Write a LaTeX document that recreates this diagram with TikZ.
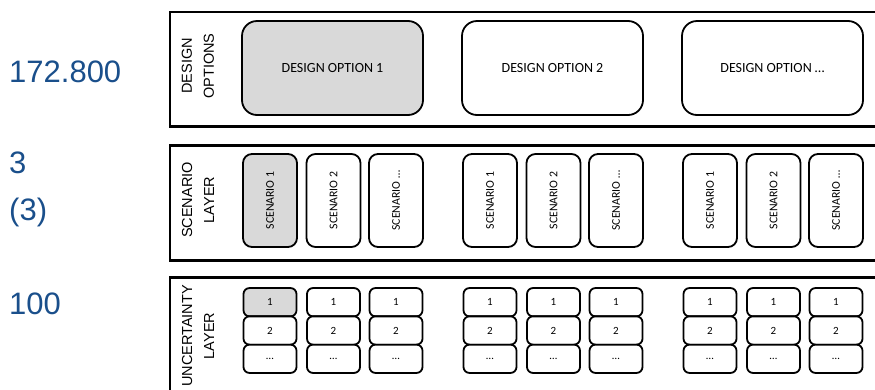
\documentclass[tikz,border=0pt]{standalone}
\usepackage{fontspec}
\setmainfont{Liberation Sans}
\newfontfamily\calibri{Carlito}
\usetikzlibrary{positioning}
\definecolor{countblue}{HTML}{1A4F8B}
\definecolor{pickgray}{HTML}{D9D9D9}

\begin{document}
\begin{tikzpicture}[x=1pt,y=-1pt,node distance=220pt,
    layer frame/.style={draw,line width=2.8pt,minimum width=716pt,inner sep=0pt,anchor=north west},
    layer label/.style={rotate=90,align=center,font=\fontsize{14.5}{22}\selectfont},
    count label/.style={anchor=west,text=countblue,font=\fontsize{31}{36}\selectfont,inner sep=0pt},
    option box/.style={draw,line width=1.8pt,rounded corners=15pt,minimum width=181pt,minimum height=94pt,font=\calibri\fontsize{14}{16}\selectfont},
    scenario box/.style={draw,line width=1.8pt,rounded corners=9pt,rotate=90,minimum width=93pt,minimum height=54pt,font=\calibri\fontsize{11.8}{13}\selectfont},
    sample box/.style={draw,line width=1.8pt,rounded corners=6pt,minimum width=53pt,minimum height=28.3pt,font=\calibri\fontsize{11}{12}\selectfont}]
\useasboundingbox (0,0) rectangle (875,389);

% layers
\node[layer frame,minimum height=114.3pt] (design) at (168.5,10.5) {};
\node[layer frame,minimum height=115.6pt] (scen) at (168.5,143.7) {};
\node[layer frame,minimum height=125pt] (unc) at (168.5,276) {};

\node[layer label] (designlbl) at (198,66) {DESIGN\\OPTIONS};
\node[layer label] (scenlbl) at (198,200) {SCENARIO\\LAYER};
\node[layer label] (unclbl) at (198,336) {UNCERTAINTY\\LAYER};

% counts
\node[count label] (ndesign) at (9,72) {172.800};
\node[count label] (nscen) at (9,163) {3};
\node[count label] (nscenb) at (9,212) {(3)};
\node[count label] (nunc) at (9,304) {100};

% design options
\node[option box,fill=pickgray] (opt1) at (332.5,68) {DESIGN OPTION 1};
\node[option box] (opt2) [right of=opt1] {DESIGN OPTION 2};
\node[option box] (opt3) [right of=opt2] {DESIGN OPTION \ldots};

% scenarios and samples
\foreach \g in {0,1,2}{
  \foreach \c/\cx/\ct in {1/270/1,2/333.5/2,3/396/\ldots}{
    \edef\boxfill{\ifnum\g=0 \ifnum\c=1 pickgray\else white\fi\else white\fi}
    \node[scenario box,fill=\boxfill] (sc-\g-\c) at (\cx+220*\g,200.5) {SCENARIO \ct};
    \foreach \r/\ry/\rt in {1/302.2/1,2/330.5/2,3/358.8/\ldots}{
      \edef\cellfill{\ifnum\g=0 \ifnum\c=1 \ifnum\r=1 pickgray\else white\fi\else white\fi\else white\fi}
      \node[sample box,fill=\cellfill] (un-\g-\c-\r) at (\cx+220*\g,\ry) {\rt};
    }
  }
}
\end{tikzpicture}
\end{document}
